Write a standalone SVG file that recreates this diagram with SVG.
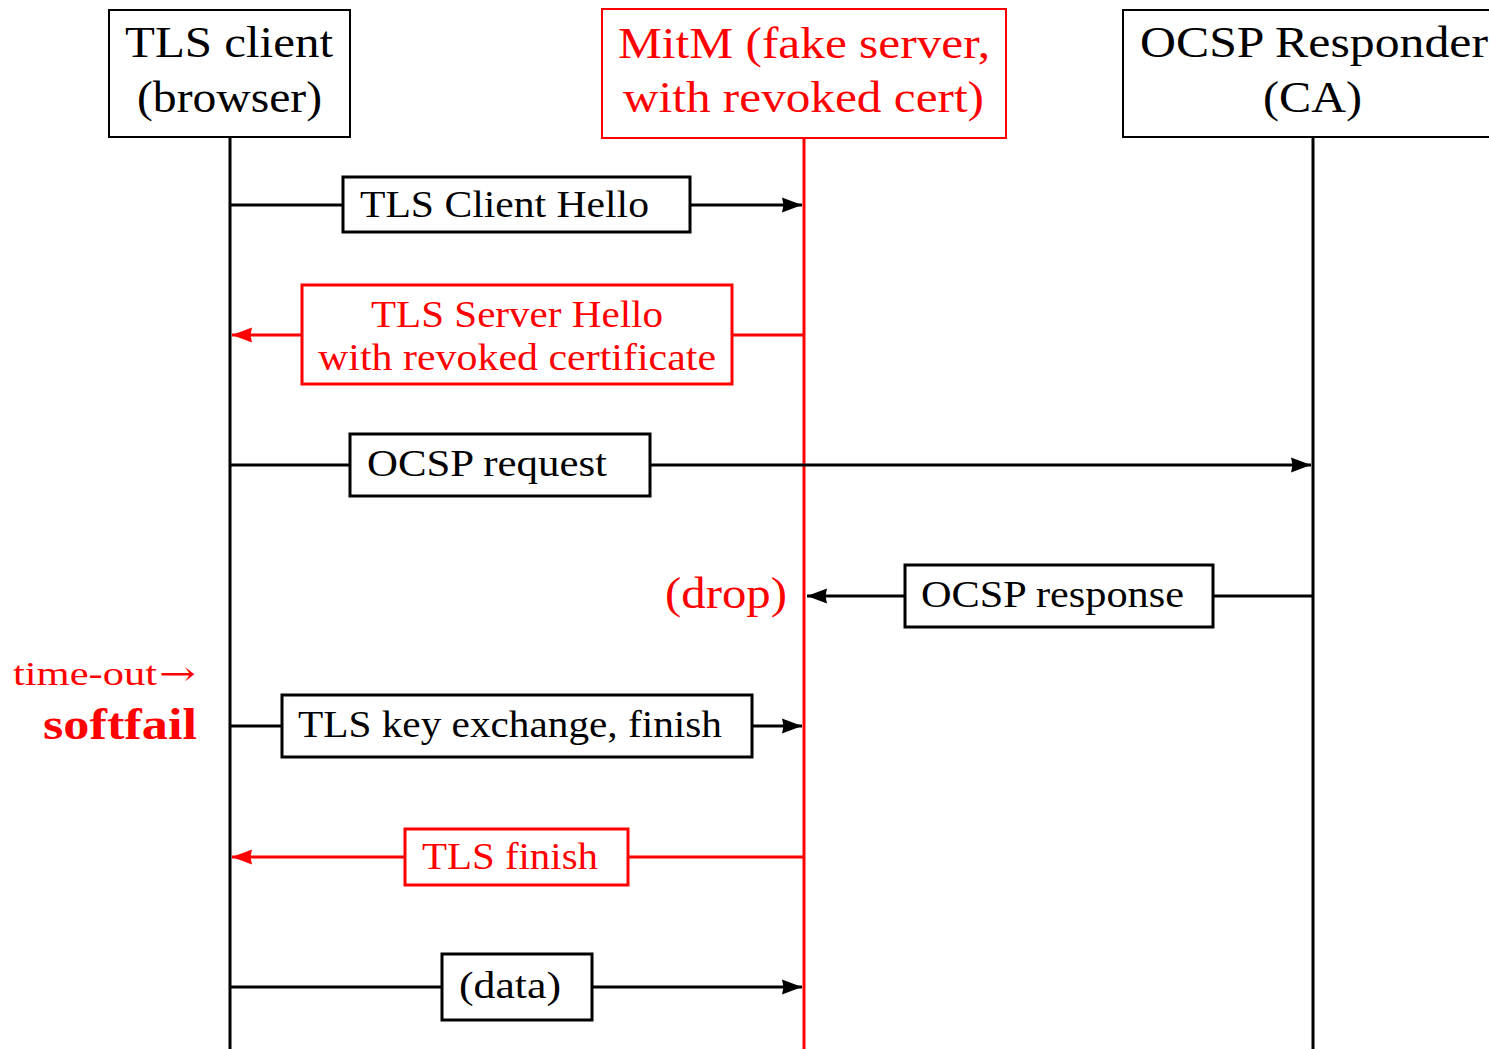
<svg xmlns="http://www.w3.org/2000/svg" width="1489" height="1049" viewBox="0 0 1489 1049">
  <style>
    text { font-family: "Liberation Serif", "Times New Roman", serif; }
    .hdr { font-size: 44px; }
    .msg { font-size: 37px; }
    .blk { fill: #000; }
    .red { fill: #ff0000; }
    .hbox { fill: #fff; stroke-width: 2; }
    .mbox { fill: #fff; stroke-width: 3; }
    .life { stroke-width: 3; fill: none; }
    .wire { stroke-width: 3; fill: none; }
    .k { stroke: #000; }
    .r { stroke: #ff0000; }
  </style>
  <defs>
    <marker id="ahK" markerUnits="userSpaceOnUse" markerWidth="22" markerHeight="18" viewBox="-21 -9 22 18" refX="0" refY="0" orient="auto">
      <path d="M0,0 L-20,-7.5 L-18.5,0 L-20,7.5 Z" fill="#000"/>
    </marker>
    <marker id="ahR" markerUnits="userSpaceOnUse" markerWidth="22" markerHeight="18" viewBox="-21 -9 22 18" refX="0" refY="0" orient="auto">
      <path d="M0,0 L-20,-7.5 L-18.5,0 L-20,7.5 Z" fill="#ff0000"/>
    </marker>
  </defs>

  <rect width="1489" height="1049" fill="#fff"/>

  <!-- lifelines -->
  <g id="lifelines">
    <line class="life k" x1="230" y1="137" x2="230" y2="1049"/>
    <line class="life r" x1="804" y1="138" x2="804" y2="1049"/>
    <line class="life k" x1="1313" y1="137" x2="1313" y2="1049"/>
  </g>

  <!-- connectors: arrows between lifelines -->
  <g id="connectors">
    <line class="wire k" x1="230" y1="205" x2="802" y2="205" marker-end="url(#ahK)"/>
    <line class="wire r" x1="804" y1="335" x2="232" y2="335" marker-end="url(#ahR)"/>
    <line class="wire k" x1="230" y1="465" x2="1311" y2="465" marker-end="url(#ahK)"/>
    <line class="wire k" x1="1313" y1="596" x2="807" y2="596" marker-end="url(#ahK)"/>
    <line class="wire k" x1="230" y1="726" x2="802" y2="726" marker-end="url(#ahK)"/>
    <line class="wire r" x1="804" y1="857" x2="232" y2="857" marker-end="url(#ahR)"/>
    <line class="wire k" x1="230" y1="987" x2="802" y2="987" marker-end="url(#ahK)"/>
  </g>

  <!-- participants -->
  <g id="client">
    <rect class="hbox k" x="109" y="10" width="241" height="127"/>
    <text class="hdr blk" x="125" y="57" textLength="208" lengthAdjust="spacingAndGlyphs">TLS client</text>
    <text class="hdr blk" x="137" y="112" textLength="185" lengthAdjust="spacingAndGlyphs">(browser)</text>
  </g>
  <g id="mitm">
    <rect class="hbox r" x="602" y="9" width="404" height="129"/>
    <text class="hdr red" x="618" y="58" textLength="372" lengthAdjust="spacingAndGlyphs">MitM (fake server,</text>
    <text class="hdr red" x="623" y="112" textLength="361" lengthAdjust="spacingAndGlyphs">with revoked cert)</text>
  </g>
  <g id="responder">
    <rect class="hbox k" x="1123" y="10" width="400" height="127"/>
    <text class="hdr blk" x="1140" y="57" textLength="348" lengthAdjust="spacingAndGlyphs">OCSP Responder</text>
    <text class="hdr blk" x="1263" y="112" textLength="99" lengthAdjust="spacingAndGlyphs">(CA)</text>
  </g>

  <!-- message labels -->
  <g id="msg-client-hello">
    <rect class="mbox k" x="343" y="177" width="347" height="55"/>
    <text class="msg blk" x="360" y="217" textLength="289" lengthAdjust="spacingAndGlyphs">TLS Client Hello</text>
  </g>
  <g id="msg-server-hello">
    <rect class="mbox r" x="302" y="285" width="430" height="99"/>
    <text class="msg red" x="371" y="327" textLength="292" lengthAdjust="spacingAndGlyphs">TLS Server Hello</text>
    <text class="msg red" x="318" y="370" textLength="398" lengthAdjust="spacingAndGlyphs">with revoked certificate</text>
  </g>
  <g id="msg-ocsp-request">
    <rect class="mbox k" x="350" y="434" width="300" height="62"/>
    <text class="msg blk" x="367" y="476" textLength="240" lengthAdjust="spacingAndGlyphs">OCSP request</text>
  </g>
  <g id="msg-ocsp-response">
    <rect class="mbox k" x="905" y="565" width="308" height="62"/>
    <text class="msg blk" x="921" y="607" textLength="263" lengthAdjust="spacingAndGlyphs">OCSP response</text>
  </g>
  <g id="drop-note">
    <text class="red" x="665" y="608" font-size="44" textLength="122" lengthAdjust="spacingAndGlyphs">(drop)</text>
  </g>
  <g id="msg-key-exchange">
    <rect class="mbox k" x="282" y="695" width="470" height="62"/>
    <text class="msg blk" x="298" y="737" textLength="424" lengthAdjust="spacingAndGlyphs">TLS key exchange, finish</text>
  </g>
  <g id="msg-tls-finish">
    <rect class="mbox r" x="405" y="829" width="223" height="56"/>
    <text class="msg red" x="422" y="869" textLength="176" lengthAdjust="spacingAndGlyphs">TLS finish</text>
  </g>
  <g id="msg-data">
    <rect class="mbox k" x="442" y="954" width="150" height="66"/>
    <text class="msg blk" x="459" y="998" textLength="102" lengthAdjust="spacingAndGlyphs">(data)</text>
  </g>

  <!-- softfail annotation -->
  <g id="softfail-note">
    <text class="red" x="13" y="685" font-size="34" textLength="144" lengthAdjust="spacingAndGlyphs">time-out</text>
    <text class="red" x="159" y="685" font-size="34" style="font-family: 'DejaVu Serif', 'DejaVu Sans', serif" textLength="37" lengthAdjust="spacingAndGlyphs">→</text>
    <text class="red" x="43" y="739" font-size="44" font-weight="bold" textLength="154" lengthAdjust="spacingAndGlyphs">softfail</text>
  </g>
</svg>
